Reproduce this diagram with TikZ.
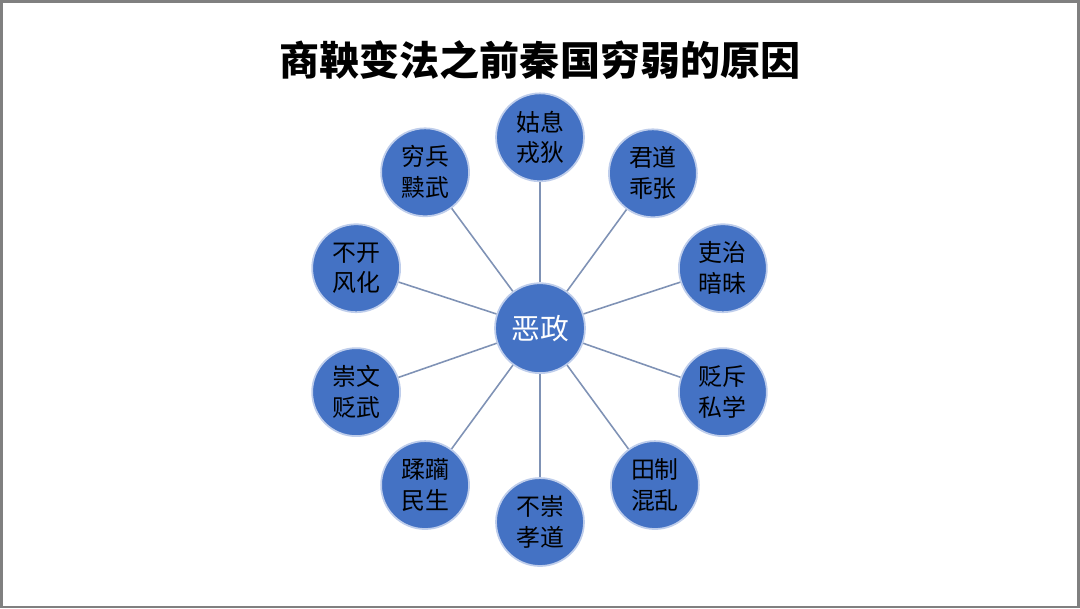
\documentclass[tikz,border=0pt]{standalone}
\usepackage{fontspec}
\usepackage{tikz}
\newfontfamily\cjk{Noto Sans CJK SC}
\definecolor{ballblue}{RGB}{68,114,196}
\definecolor{ballrim}{RGB}{190,205,235}
\definecolor{spoke}{RGB}{127,146,181}
\definecolor{frame}{RGB}{128,128,128}
\tikzset{
  ball/.style={circle, fill=ballblue, draw=ballrim, line width=0.5pt,
    minimum size=0.88cm, inner sep=0pt, align=center,
    font=\cjk\fontsize{6.8}{8.8}\selectfont},
  hub/.style={ball, minimum size=0.9cm, text=white,
    font=\cjk\fontsize{8.2}{9}\selectfont}
}

\begin{document}
\begin{tikzpicture}
        \draw[frame, line width=0.8pt] (-5.39, -2.79) rectangle (5.39, 3.27);
        \useasboundingbox (-5.40, -2.80) rectangle (5.40, 3.28);
        \node[font=\cjk\bfseries\fontsize{11.4}{12}\selectfont] (title) at (0, 2.68) {商鞅变法之前秦国穷弱的原因};
        \node[hub] (evil) at (0, 0) {恶政};
        \node[ball] (appease) at (0, 1.91) {姑息\\戎狄};
        \node[ball] (ruler) at (1.13, 1.55) {君道\\乖张};
        \node[ball] (officials) at (1.83, 0.60) {吏治\\暗昧};
        \node[ball] (schools) at (1.83, -0.64) {贬斥\\私学};
        \node[ball] (land) at (1.15, -1.57) {田制\\混乱};
        \node[ball] (filial) at (0, -1.94) {不崇\\孝道};
        \node[ball] (people) at (-1.15, -1.57) {蹂躏\\民生};
        \node[ball] (letters) at (-1.84, -0.64) {崇文\\贬武};
        \node[ball] (customs) at (-1.84, 0.60) {不开\\风化};
        \node[ball] (war) at (-1.15, 1.56) {穷兵\\黩武};
        \draw[spoke, line width=0.45pt] (evil) -- (appease);
        \draw[spoke, line width=0.45pt] (evil) -- (ruler);
        \draw[spoke, line width=0.45pt] (evil) -- (officials);
        \draw[spoke, line width=0.45pt] (evil) -- (schools);
        \draw[spoke, line width=0.45pt] (evil) -- (land);
        \draw[spoke, line width=0.45pt] (evil) -- (filial);
        \draw[spoke, line width=0.45pt] (evil) -- (people);
        \draw[spoke, line width=0.45pt] (evil) -- (letters);
        \draw[spoke, line width=0.45pt] (evil) -- (customs);
        \draw[spoke, line width=0.45pt] (evil) -- (war);
      \end{tikzpicture}
\end{document}
